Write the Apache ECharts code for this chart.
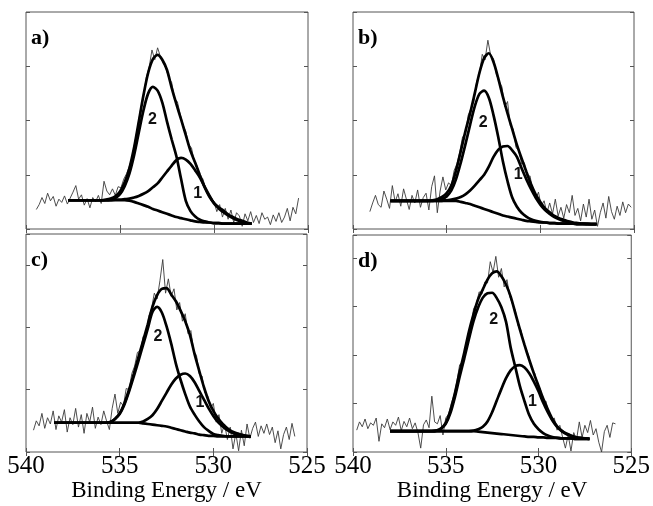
<!DOCTYPE html>
<html>
<head>
<meta charset="utf-8">
<script src="https://cdn.jsdelivr.net/npm/echarts@6/dist/echarts.min.js"></script>
<style>
html,body{margin:0;padding:0;background:#fff;}
#chart{width:653px;height:506px;}
</style>
</head>
<body>
<div id="chart"></div>
<script>
// ---------------- data ----------------
const xTicks = [540, 535, 530, 525];
const panelNames = ['a)', 'b)', 'c)', 'd)'];
const componentNames = ['1', '2'];
const curveStep = 0.25;   // eV spacing of the fitted curves
const rawStep = 0.15;     // eV spacing of the measured spectrum

// panel a
const curveStartA = 537.75;
const baseA = [.53,.53,.53,.53,.53,.53,.53,.53,.53,.53,.53,.53,.53,.52,.50,.47,.44,.41,.37,.34,.31,.28,.25,.22,.20,.18,.16,.14,.13,.12,.12,.11,.11,.10,.10,.10,.10,.10,.10,.10];
const envA = [.53,.53,.53,.53,.53,.53,.53,.53,.54,.56,.60,.69,.86,1.12,1.50,1.98,2.47,2.88,3.13,3.21,3.12,2.93,2.60,2.30,2.02,1.73,1.44,1.22,.99,.77,.60,.48,.40,.34,.27,.22,.18,.15,.12,.10];
const peak2A = [.53,.53,.53,.53,.53,.53,.53,.53,.53,.54,.57,.64,.79,1.02,1.36,1.78,2.19,2.50,2.62,2.55,2.33,1.98,1.65,1.34,.92,.52,.33,.23,.17,.14,.12,.11,.11,.10,.10,.10,.10,.10,.10,.10];
const peak1A = [.53,.53,.53,.53,.53,.53,.53,.53,.53,.53,.54,.54,.55,.56,.58,.61,.65,.70,.77,.84,.95,1.06,1.17,1.27,1.31,1.28,1.20,1.08,.95,.78,.62,.47,.38,.31,.25,.20,.16,.13,.11,.10];
const rawStartA = 539.45;
const rawA = [.36,.45,.58,.47,.66,.52,.60,.42,.55,.49,.61,.46,.57,.68,.80,.55,.63,.44,.56,.39,.58,.50,.62,.47,.88,.70,.63,.74,.62,.78,.76,.92,1.02,1.16,1.33,1.62,1.90,2.22,2.45,2.80,2.98,3.30,3.12,3.34,3.18,3.05,2.96,2.78,2.70,2.40,2.35,2.12,1.92,1.80,1.55,1.50,1.25,1.16,.98,.93,.76,.62,.58,.50,.32,.45,.22,.38,.18,.35,.12,.30,.24,.05,.28,.15,.32,.12,.25,.10,.30,.18,.22,.08,.26,.14,.30,.12,.22,.38,.15,.40,.28,.57];

// panel b
const curveStartB = 538.0;
const baseB = [.52,.52,.52,.52,.52,.52,.52,.52,.52,.52,.52,.52,.52,.52,.52,.50,.48,.46,.43,.40,.37,.34,.31,.28,.25,.23,.21,.19,.17,.15,.14,.13,.12,.12,.11,.11,.10,.10,.10,.10,.09,.09,.09,.09,.09];
const envB = [.52,.52,.52,.52,.52,.52,.52,.52,.52,.53,.55,.59,.66,.80,1.08,1.43,1.80,2.13,2.50,2.88,3.15,3.24,3.08,2.78,2.44,2.13,1.84,1.55,1.30,1.06,.83,.64,.50,.38,.31,.24,.20,.17,.14,.12,.11,.10,.10,.09,.09];
const peak2B = [.52,.52,.52,.52,.52,.52,.52,.52,.52,.52,.53,.55,.60,.71,.92,1.22,1.56,1.92,2.26,2.49,2.55,2.42,2.10,1.70,1.25,.88,.58,.41,.30,.23,.18,.15,.13,.12,.11,.11,.10,.10,.10,.10,.09,.09,.09,.09,.09];
const peak1B = [.52,.52,.52,.52,.52,.52,.52,.52,.52,.52,.52,.52,.53,.54,.56,.59,.64,.71,.80,.90,1.00,1.15,1.33,1.46,1.52,1.53,1.45,1.33,1.12,.92,.74,.58,.45,.35,.28,.22,.18,.15,.13,.11,.10,.10,.09,.09,.09];
const rawStartB = 539.10;
const rawB = [.32,.48,.62,.45,.40,.70,.55,.38,.80,.50,.65,.42,.74,.55,.36,.62,.48,.72,.40,.58,.66,.35,.78,.98,.30,.70,.96,.72,.85,.80,1.08,1.20,1.42,1.70,1.74,2.10,2.22,2.35,2.72,2.85,3.22,3.12,3.48,3.20,3.14,2.85,2.72,2.62,2.25,2.35,1.90,1.85,1.50,1.45,1.20,1.22,.95,.98,.70,.55,.68,.42,.52,.30,.48,.28,.55,.24,.40,.20,.45,.30,.62,.25,.38,.15,.46,.22,.55,.18,.35,.05,.30,.48,.20,.60,.32,.18,.42,.25,.50,.30,.46,.40];

// panel c
const curveStartC = 538.5;
const baseC = [.47,.47,.47,.47,.47,.47,.47,.47,.47,.47,.47,.47,.47,.47,.47,.47,.47,.47,.47,.46,.45,.44,.43,.42,.41,.39,.37,.35,.33,.31,.30,.28,.27,.26,.26,.25,.25,.25,.25,.25,.25,.25,.25];
const envC = [.47,.47,.47,.47,.47,.47,.47,.47,.47,.47,.47,.47,.48,.53,.62,.78,1.00,1.25,1.52,1.78,2.05,2.33,2.52,2.62,2.63,2.53,2.42,2.27,2.10,1.88,1.57,1.30,1.04,.82,.66,.54,.45,.38,.33,.30,.28,.26,.25];
const peak2C = [.47,.47,.47,.47,.47,.47,.47,.47,.47,.47,.47,.47,.48,.53,.61,.76,.97,1.21,1.46,1.72,1.98,2.25,2.33,2.24,2.02,1.74,1.42,1.16,.93,.73,.60,.49,.40,.34,.29,.27,.26,.25,.25,.25,.25,.25,.25];
const peak1C = [.47,.47,.47,.47,.47,.47,.47,.47,.47,.47,.47,.47,.47,.47,.47,.47,.47,.47,.47,.49,.53,.59,.69,.82,.95,1.08,1.18,1.24,1.26,1.22,1.12,.98,.84,.70,.58,.48,.41,.35,.31,.28,.27,.26,.25];
const rawStartC = 539.60;
const rawC = [.35,.50,.42,.62,.38,.55,.45,.66,.36,.58,.48,.68,.32,.55,.44,.70,.40,.60,.30,.62,.48,.72,.38,.56,.44,.66,.50,.36,.70,.93,.62,.80,.74,1.02,1.00,1.26,1.38,1.60,1.62,1.85,1.90,2.18,2.30,2.55,2.46,2.75,3.09,2.55,2.78,2.50,2.62,2.28,2.40,2.10,2.22,1.90,1.95,1.62,1.55,1.25,1.22,.95,.90,.70,.78,.48,.60,.30,.45,.20,.40,.05,.30,.02,.35,.10,.45,.22,.38,.48,.25,.42,.30,.45,.28,.40,.15,.34,.05,.28,.40,.20,.46,.25];

// panel d
const curveStartD = 538.0;
const baseD = [.43,.43,.43,.43,.43,.43,.43,.43,.43,.43,.43,.43,.43,.43,.43,.43,.43,.43,.43,.42,.41,.40,.39,.38,.37,.36,.35,.34,.33,.32,.31,.31,.30,.30,.29,.29,.29,.28,.28,.28,.27,.27,.27,.27];
const envD = [.43,.43,.43,.43,.43,.43,.43,.43,.43,.43,.44,.49,.60,.85,1.22,1.65,2.05,2.48,2.84,3.15,3.35,3.55,3.68,3.72,3.62,3.45,3.20,2.86,2.52,2.20,1.90,1.62,1.36,1.10,.88,.68,.53,.44,.38,.34,.31,.29,.28,.27];
const peak2D = [.43,.43,.43,.43,.43,.43,.43,.43,.43,.43,.44,.48,.58,.80,1.14,1.55,1.93,2.33,2.70,2.98,3.18,3.27,3.28,3.17,2.98,2.68,2.15,1.75,1.35,1.04,.76,.58,.47,.39,.34,.31,.29,.28,.28,.28,.27,.27,.27,.27];
const peak1D = [.43,.43,.43,.43,.43,.43,.43,.43,.43,.43,.43,.43,.43,.43,.43,.43,.43,.43,.44,.47,.52,.63,.82,1.06,1.30,1.52,1.68,1.77,1.79,1.74,1.62,1.45,1.25,1.02,.82,.65,.52,.43,.37,.33,.30,.29,.28,.27];
const rawStartD = 539.80;
const rawD = [.45,.62,.52,.68,.48,.60,.55,.70,.22,.58,.50,.68,.46,.62,.55,.72,.44,.63,.52,.70,.48,.60,.40,.08,.56,.66,.50,1.15,.62,.58,.75,.35,.70,.78,1.00,1.18,1.45,1.80,1.85,2.15,2.40,2.55,2.95,3.05,3.30,3.25,3.50,3.48,3.92,3.70,4.03,3.60,3.78,3.40,3.55,3.20,3.05,2.92,2.60,2.52,2.25,2.10,1.95,1.70,1.62,1.38,1.30,1.02,1.05,.80,.65,.70,.45,.55,.30,.08,.35,.02,.40,.25,.62,.30,.55,.40,.65,.35,.48,.20,.00,.42,.55,.30,.60,.58];

// ---------------- layout / style ----------------
const serif = "'Liberation Serif','Times New Roman',serif";
const sans = "'Liberation Sans',Arial,sans-serif";
const frameColor = '#555';
const grids = [
  {left: 26, top: 12, width: 282, height: 217},
  {left: 353, top: 12, width: 281, height: 217},
  {left: 26, top: 234, width: 281, height: 218},
  {left: 353, top: 235, width: 281, height: 217}
];
const yMaxes = [4, 4, 3.5, 4.47];
const labelSpots = [
  [[530.87, 0.66], [533.27, 2.01]],
  [[531.18, 1.01], [533.05, 1.97]],
  [[530.71, 0.79], [532.95, 1.86]],
  [[530.33, 1.03], [532.41, 2.72]]
];
const panels = [
  {cs: curveStartA, base: baseA, env: envA, p1: peak1A, p2: peak2A, rs: rawStartA, raw: rawA},
  {cs: curveStartB, base: baseB, env: envB, p1: peak1B, p2: peak2B, rs: rawStartB, raw: rawB},
  {cs: curveStartC, base: baseC, env: envC, p1: peak1C, p2: peak2C, rs: rawStartC, raw: rawC},
  {cs: curveStartD, base: baseD, env: envD, p1: peak1D, p2: peak2D, rs: rawStartD, raw: rawD}
];

function pairs(start, step, arr) {
  return arr.map((v, i) => [+(start - i * step).toFixed(2), v]);
}

const xAxes = [], yAxes = [], series = [], titles = [];
grids.forEach((g, k) => {
  const showLabels = k >= 2;
  const common = {
    type: 'value', gridIndex: k, min: 525, max: 540, interval: 5, inverse: true,
    axisLine: {show: false}, splitLine: {show: false},
    axisTick: {show: true, inside: true, length: 4, lineStyle: {color: frameColor, width: 1}}
  };
  xAxes.push(Object.assign({}, common, {
    position: 'bottom',
    axisLabel: {show: showLabels, margin: 2, fontFamily: serif, fontSize: 25, color: '#000',
      formatter: v => xTicks.includes(v) ? String(v) : ''},
    name: showLabels ? 'Binding Energy / eV' : '', nameLocation: 'middle', nameGap: 27,
    nameTextStyle: {fontFamily: serif, fontSize: 23, color: '#000'}
  }));
  xAxes.push(Object.assign({}, common, {position: 'top', axisLabel: {show: false}}));
  const ycommon = {
    type: 'value', gridIndex: k, min: 0, max: yMaxes[k], interval: 1,
    axisLine: {show: false}, splitLine: {show: false}, axisLabel: {show: false},
    axisTick: {show: true, inside: true, length: 4, lineStyle: {color: frameColor, width: 1}}
  };
  yAxes.push(Object.assign({}, ycommon, {position: 'left'}));
  yAxes.push(Object.assign({}, ycommon, {position: 'right'}));

  const p = panels[k];
  const xi = 2 * k, yi = 2 * k;
  series.push({
    type: 'line', xAxisIndex: xi, yAxisIndex: yi, data: pairs(p.rs, rawStep, p.raw),
    symbol: 'none', lineStyle: {color: '#3a3a3a', width: 0.9}, z: 2, silent: true
  });
  const thick = {color: '#000', width: 2.7};
  [p.base, p.p1, p.p2, p.env].forEach((arr, j) => {
    const s = {
      type: 'line', xAxisIndex: xi, yAxisIndex: yi, data: pairs(p.cs, curveStep, arr),
      symbol: 'none', smooth: 0.3, lineStyle: thick, z: 3, silent: true
    };
    if (j === 1 || j === 2) {
      const spot = labelSpots[k][j - 1];
      s.markPoint = {
        symbol: 'circle', symbolSize: 0, silent: true,
        data: [{coord: spot, value: componentNames[j - 1]}],
        label: {show: true, position: 'inside', formatter: componentNames[j - 1],
          fontFamily: sans, fontSize: 16, fontWeight: 'bold', color: '#111'}
      };
    }
    series.push(s);
  });
  titles.push({
    text: panelNames[k], left: g.left + 5, top: g.top + 15, padding: 0,
    textStyle: {fontFamily: serif, fontSize: 22, fontWeight: 'bold', color: '#000'}
  });
});

const chart = echarts.init(document.getElementById('chart'), null, {renderer: 'canvas'});
chart.setOption({
  animation: false,
  backgroundColor: '#fff',
  title: titles,
  grid: grids.map(g => Object.assign({show: true, borderColor: frameColor, borderWidth: 1, backgroundColor: 'transparent'}, g)),
  xAxis: xAxes,
  yAxis: yAxes,
  series: series
});
</script>
</body>
</html>
